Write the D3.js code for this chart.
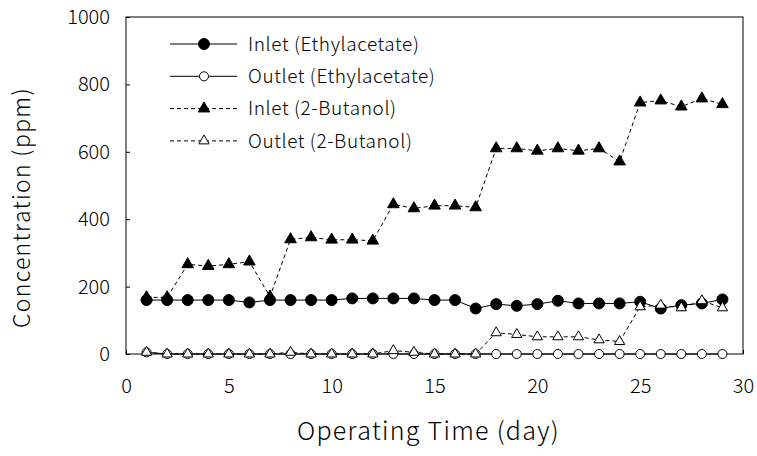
<!DOCTYPE html>
<html>
<head>
<meta charset="utf-8">
<script src="https://cdn.jsdelivr.net/npm/d3@7"></script>
<style>
  body { margin: 0; background: #fff; }
  text { font-family: "Noto Sans CJK KR", "DejaVu Sans", sans-serif; font-weight: 300; fill: #000; }
</style>
</head>
<body>
<div id="my_dataviz"></div>
<script>
// Data
const days = d3.range(1, 30);
const inletEthyl  = [160,160,160,160,160,153,160,160,160,160,165,165,165,165,160,160,135,148,143,148,158,150,150,150,155,135,145,150,162];
const outletEthyl = [5,0,0,0,0,0,0,0,0,0,0,0,0,0,0,0,0,0,0,0,0,0,0,0,0,0,0,0,0];
const inletButa   = [168,168,266,261,266,274,170,340,346,339,339,336,444,432,440,440,435,610,610,603,610,603,610,571,746,752,734,758,741];
const outletButa  = [5,0,0,0,0,0,0,5,0,0,0,0,10,5,0,0,0,63,58,51,51,51,42,37,140,145,137,158,137];
const xTicks = [0, 5, 10, 15, 20, 25, 30];
const yTicks = [0, 200, 400, 600, 800, 1000];

const seriesNames = ["Inlet (Ethylacetate)", "Outlet (Ethylacetate)", "Inlet (2-Butanol)", "Outlet (2-Butanol)"];

const W = 757, H = 456;
const margin = { top: 17, right: 14, bottom: 102, left: 126 };
const width = W - margin.left - margin.right;
const height = H - margin.top - margin.bottom;

const svg = d3.select("#my_dataviz")
  .append("svg")
    .attr("width", W)
    .attr("height", H);
const g = svg.append("g")
    .attr("transform", `translate(${margin.left},${margin.top})`);

const x = d3.scaleLinear().domain([0, 30]).range([0, width]);
const y = d3.scaleLinear().domain([0, 1000]).range([height, 0]);

// frame
g.append("rect")
    .attr("width", width).attr("height", height)
    .attr("fill", "none").attr("stroke", "#000").attr("stroke-width", 1);

// axes (ticks pointing inward)
const yAxis = g.append("g")
    .call(d3.axisLeft(y).tickValues(yTicks).tickFormat(d3.format("d"))
      .tickSizeInner(-4).tickSizeOuter(0).tickPadding(16));
const xAxis = g.append("g")
    .attr("transform", `translate(0,${height})`)
    .call(d3.axisBottom(x).tickValues(xTicks).tickFormat(d3.format("d"))
      .tickSizeInner(-4).tickSizeOuter(0).tickPadding(25));
[xAxis, yAxis].forEach(a => {
  a.select(".domain").remove();
  a.selectAll("text").style("font-size", "20px").attr("font-family", null);
});

// axis titles
svg.append("text")
    .attr("x", margin.left + width / 2 - 6).attr("y", 440)
    .attr("text-anchor", "middle")
    .style("font-size", "25px")
    .style("letter-spacing", "1.3px")
    .text("Operating Time (day)");
svg.append("text")
    .attr("transform", `translate(30,${margin.top + height / 2 + 22}) rotate(-90)`)
    .attr("text-anchor", "middle")
    .style("font-size", "23px")
    .style("letter-spacing", "1.3px")
    .text("Concentration (ppm)");

const series = [
  { name: seriesNames[0], values: inletEthyl,  dash: null,  shape: d3.symbolCircle,   fill: "#000", size: 95 },
  { name: seriesNames[1], values: outletEthyl, dash: null,  shape: d3.symbolCircle,   fill: "#fff", size: 64 },
  { name: seriesNames[2], values: inletButa,   dash: "4,3", shape: d3.symbolTriangle, fill: "#000", size: 58 },
  { name: seriesNames[3], values: outletButa,  dash: "4,3", shape: d3.symbolTriangle, fill: "#fff", size: 46 }
];

const line = d3.line().x((d, i) => x(days[i])).y(d => y(d));

series.forEach(s => {
  g.append("path")
    .datum(s.values)
    .attr("d", line)
    .attr("fill", "none")
    .attr("stroke", "#000")
    .attr("stroke-width", 1)
    .attr("stroke-dasharray", s.dash);
  g.append("g").selectAll("path")
    .data(s.values)
    .join("path")
    .attr("transform", (d, i) => `translate(${x(days[i])},${y(d)})`)
    .attr("d", d3.symbol().type(s.shape).size(s.size))
    .attr("fill", s.fill)
    .attr("stroke", "#000")
    .attr("stroke-width", 1);
});

// legend
const legend = svg.append("g").attr("transform", "translate(170,44)");
series.forEach((s, i) => {
  const row = legend.append("g").attr("transform", `translate(0,${i * 32.3})`);
  row.append("line")
    .attr("x1", 0).attr("x2", 67).attr("y1", 0).attr("y2", 0)
    .attr("stroke", "#000").attr("stroke-dasharray", s.dash);
  row.append("path")
    .attr("transform", "translate(34,0)")
    .attr("d", d3.symbol().type(s.shape).size(s.size))
    .attr("fill", s.fill).attr("stroke", "#000");
  row.append("text")
    .attr("x", 78).attr("y", 0).attr("dy", "0.35em")
    .style("font-size", "19px")
    .style("letter-spacing", "0.6px")
    .text(s.name);
});
</script>
</body>
</html>
